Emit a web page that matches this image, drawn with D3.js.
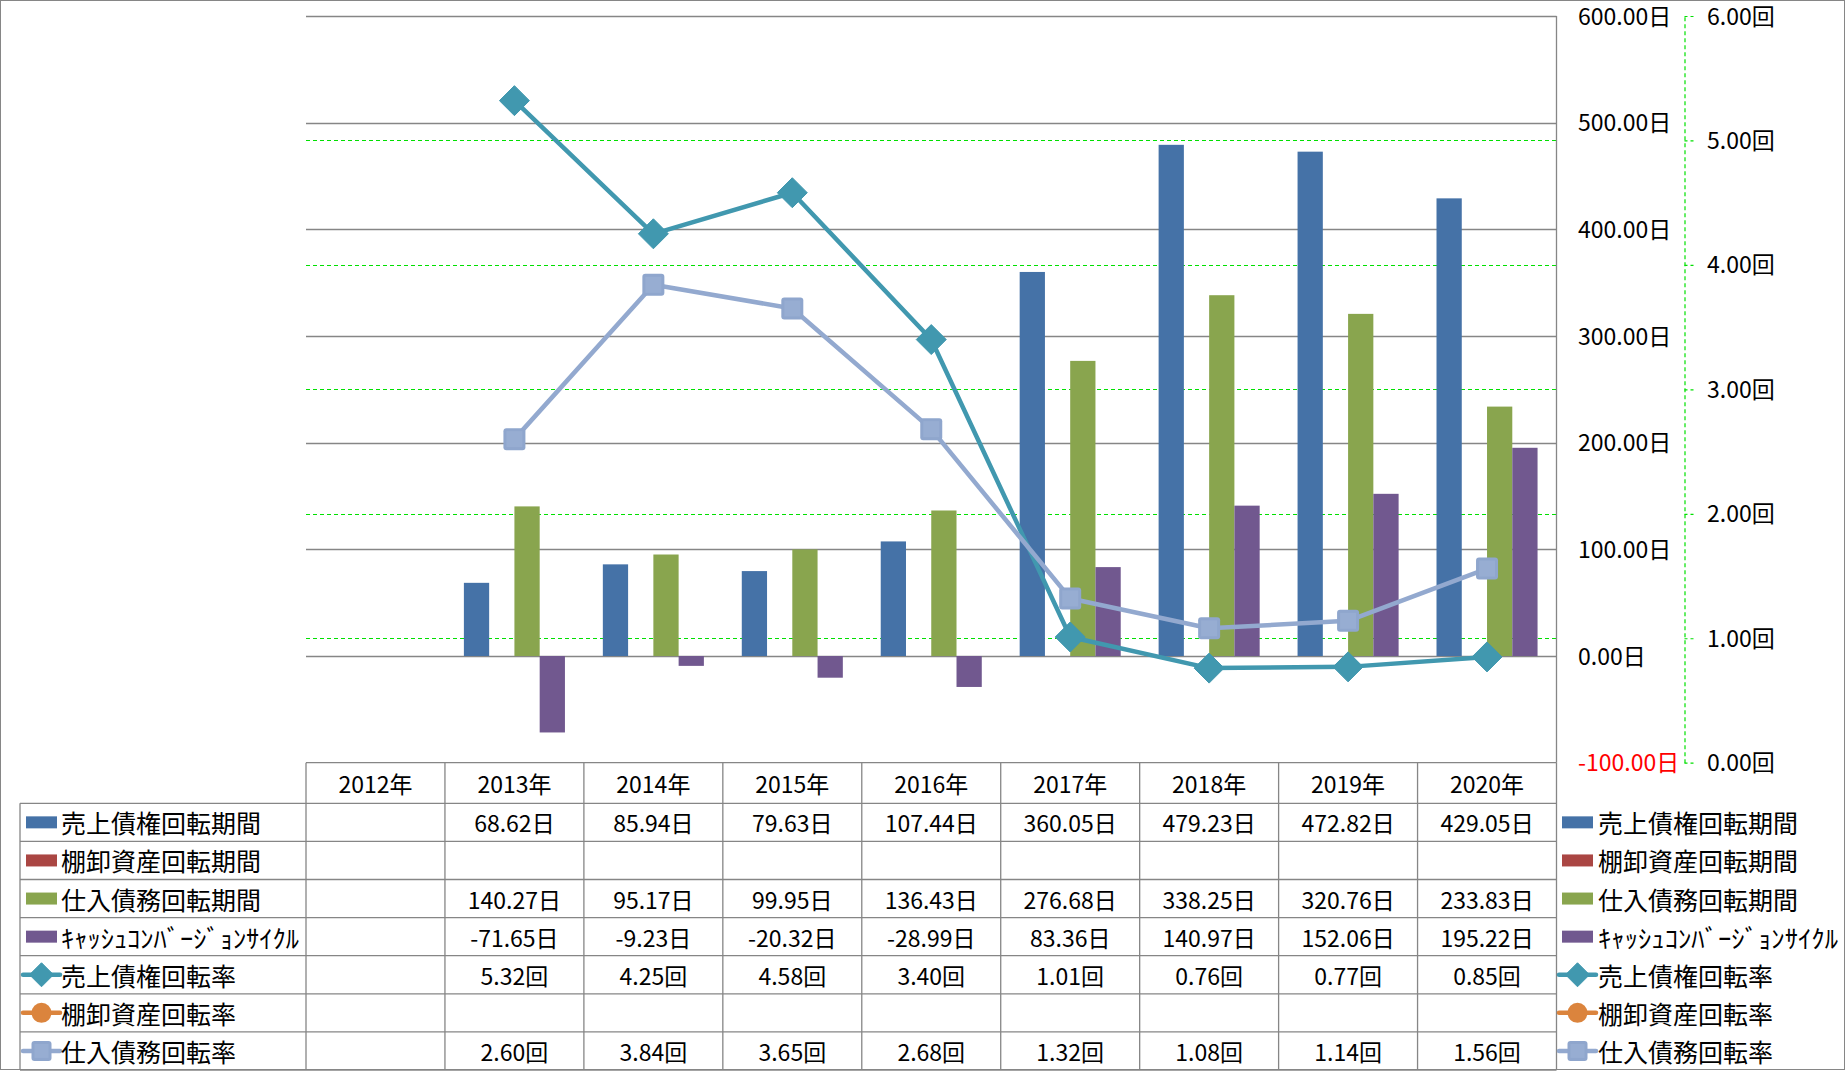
<!DOCTYPE html>
<html><head><meta charset="utf-8">
<script src="https://cdn.jsdelivr.net/npm/d3@7"></script>
<style>
html,body{margin:0;padding:0;background:#fff;}
svg{display:block;font-family:"Noto Sans CJK JP","Noto Sans",sans-serif;}
</style></head>
<body>
<svg id="chart" width="1846" height="1071"></svg>
<script>
// ---- data ----
const categories = ["2012年","2013年","2014年","2015年","2016年","2017年","2018年","2019年","2020年"];
const arDays  = [null, 68.62, 85.94, 79.63, 107.44, 360.05, 479.23, 472.82, 429.05];
const invDays = [null, null, null, null, null, null, null, null, null];
const apDays  = [null, 140.27, 95.17, 99.95, 136.43, 276.68, 338.25, 320.76, 233.83];
const cccDays = [null, -71.65, -9.23, -20.32, -28.99, 83.36, 140.97, 152.06, 195.22];
const arTurn  = [null, 5.32, 4.25, 4.58, 3.40, 1.01, 0.76, 0.77, 0.85];
const invTurn = [null, null, null, null, null, null, null, null, null];
const apTurn  = [null, 2.60, 3.84, 3.65, 2.68, 1.32, 1.08, 1.14, 1.56];
const dayTicks  = [-100, 0, 100, 200, 300, 400, 500, 600];
const turnTicks = [0, 1, 2, 3, 4, 5, 6];
const seriesNames = ["売上債権回転期間","棚卸資産回転期間","仕入債務回転期間","ｷｬｯｼｭｺﾝﾊﾞｰｼﾞｮﾝｻｲｸﾙ","売上債権回転率","棚卸資産回転率","仕入債務回転率"];

// ---- series definitions ----
const barSeries = [
  {name: seriesNames[0], values: arDays,  color: "#4572A7"},
  {name: seriesNames[1], values: invDays, color: "#AA4643"},
  {name: seriesNames[2], values: apDays,  color: "#89A54E"},
  {name: seriesNames[3], values: cccDays, color: "#71588F"}
];
const lineSeries = [
  {name: seriesNames[4], values: arTurn,  color: "#4198AF", marker: "diamond"},
  {name: seriesNames[5], values: invTurn, color: "#DB843D", marker: "circle"},
  {name: seriesNames[6], values: apTurn,  color: "#93A9CF", marker: "square"}
];
const allRows = [
  {s: barSeries[0], unit: "日", kind: "bar"},
  {s: barSeries[1], unit: "日", kind: "bar"},
  {s: barSeries[2], unit: "日", kind: "bar"},
  {s: barSeries[3], unit: "日", kind: "bar", narrow: true},
  {s: lineSeries[0], unit: "回", kind: "line"},
  {s: lineSeries[1], unit: "回", kind: "line"},
  {s: lineSeries[2], unit: "回", kind: "line"}
];

const svg = d3.select("#chart");
const gridGray = "#868686";
const plotL = 306, plotR = 1556.5, plotT = 16, plotB = 762.7;

const x = d3.scaleBand().domain(categories).range([plotL, plotR]).padding(0);
const xs = d3.scaleBand().domain(d3.range(barSeries.length)).range([0, x.bandwidth()]).paddingInner(0).paddingOuter(0.75);
const yL = d3.scaleLinear().domain([-100, 600]).range([plotB, plotT]);
const yR = d3.scaleLinear().domain([0, 6]).range([plotB, plotT]);

// outer border
svg.append("rect").attr("x",0.5).attr("y",0.5).attr("width",1844).attr("height",1069)
  .attr("fill","none").attr("stroke",gridGray).attr("stroke-width",1);

// green dashed gridlines (secondary)
svg.append("g").selectAll("line").data(turnTicks.filter(t => t > 0 && t < 6)).join("line")
  .attr("x1", plotL).attr("x2", plotR)
  .attr("y1", d => Math.round(yR(d)) + 0.5).attr("y2", d => Math.round(yR(d)) + 0.5)
  .attr("stroke", "#00E000").attr("stroke-width", 1.2).attr("stroke-dasharray", "4,3");

// gray gridlines (primary)
svg.append("g").selectAll("line").data(dayTicks.filter(t => t >= 0)).join("line")
  .attr("x1", plotL).attr("x2", plotR)
  .attr("y1", d => Math.round(yL(d)) + 0.5).attr("y2", d => Math.round(yL(d)) + 0.5)
  .attr("stroke", gridGray).attr("stroke-width", 1.3);

// plot right border
svg.append("line").attr("x1", plotR).attr("x2", plotR).attr("y1", yL(600)).attr("y2", plotB)
  .attr("stroke", gridGray).attr("stroke-width", 1.3);

// bars
const barG = svg.append("g");
barSeries.forEach((s, si) => {
  barG.append("g").selectAll("rect")
    .data(s.values.map((v, i) => ({v, c: categories[i]})).filter(d => d.v !== null))
    .join("rect")
    .attr("x", d => x(d.c) + xs(si))
    .attr("width", xs.bandwidth())
    .attr("y", d => yL(Math.max(0, d.v)))
    .attr("height", d => Math.abs(yL(d.v) - yL(0)))
    .attr("fill", s.color);
});

// marker drawing helper
function drawMarker(g, type, cx, cy, size, color) {
  if (type === "diamond") {
    const h = size / 2;
    g.append("path").attr("d", `M${cx},${cy - h}L${cx + h},${cy}L${cx},${cy + h}L${cx - h},${cy}Z`)
      .attr("fill", color).attr("stroke", color).attr("stroke-width", 1).attr("stroke-linejoin","round");
  } else if (type === "square") {
    const h = size / 2;
    g.append("rect").attr("x", cx - h).attr("y", cy - h).attr("width", size).attr("height", size)
      .attr("rx", 3).attr("fill", "#8FA6CD");
    g.append("rect").attr("x", cx - h + 3).attr("y", cy - h + 3).attr("width", size - 6).attr("height", size - 6)
      .attr("fill", "#97ADD2");
  } else {
    g.append("circle").attr("cx", cx).attr("cy", cy).attr("r", size / 2).attr("fill", color);
  }
}

// lines
const lineG = svg.append("g");
lineSeries.forEach(s => {
  const pts = s.values.map((v, i) => ({v, c: categories[i]})).filter(d => d.v !== null);
  if (!pts.length) return;
  const line = d3.line().x(d => x(d.c) + x.bandwidth() / 2).y(d => yR(d.v));
  lineG.append("path").datum(pts).attr("d", line).attr("fill", "none")
    .attr("stroke", s.color).attr("stroke-width", 4.5).attr("stroke-linejoin", "round");
  const mg = lineG.append("g");
  pts.forEach(d => drawMarker(mg, s.marker, x(d.c) + x.bandwidth() / 2, yR(d.v), s.marker === "diamond" ? 30 : 22, s.color));
});

// primary axis (right side, labels only)
const axL = svg.append("g").attr("transform", `translate(${plotR},0)`)
  .call(d3.axisRight(yL).tickValues(dayTicks).tickFormat(d => d.toFixed(2) + "日").tickSize(0).tickPadding(21.5));
axL.select(".domain").remove();
axL.attr("font-family", null).attr("font-size", null);
axL.selectAll("text").attr("font-size", 23).attr("dy", "0.35em")
  .attr("fill", d => d < 0 ? "#FF0000" : "#000");

// secondary axis
const axR = svg.append("g").attr("transform", `translate(1684.5,0)`)
  .call(d3.axisRight(yR).tickValues(turnTicks).tickFormat(d => d.toFixed(2) + "回").tickSize(9).tickSizeOuter(0).tickPadding(13.5));
axR.attr("font-family", null).attr("font-size", null);
axR.select(".domain").attr("stroke", "#00E000").attr("stroke-dasharray", "4,3").attr("stroke-width", 1.2);
axR.selectAll(".tick line").attr("stroke", "#00E000").attr("stroke-dasharray", "3,3").attr("stroke-width", 1.2);
axR.selectAll("text").attr("font-size", 23).attr("dy", "0.35em").attr("fill", "#000");

// ---- data table ----
const tableTop = plotB, headerB = 803.3, tableB = 1070, legL = 20;
const rowY = d3.scaleBand().domain(d3.range(allRows.length)).range([headerB, tableB]);
const tg = svg.append("g");
function hline(x1, x2, y) { tg.append("line").attr("x1", x1).attr("x2", x2).attr("y1", y).attr("y2", y).attr("stroke", gridGray).attr("stroke-width", 1.3); }
function vline(xx, y1, y2) { tg.append("line").attr("x1", xx).attr("x2", xx).attr("y1", y1).attr("y2", y2).attr("stroke", gridGray).attr("stroke-width", 1.3); }
hline(plotL, plotR, tableTop);
hline(legL, plotR, headerB);
allRows.forEach((r, i) => hline(legL, plotR, rowY(i) + rowY.bandwidth()));
categories.forEach(c => vline(x(c), tableTop, tableB));
vline(plotR, tableTop, tableB);
vline(legL, headerB, tableB);

// header labels
tg.selectAll("text.hdr").data(categories).join("text").attr("class", "hdr")
  .attr("x", d => x(d) + x.bandwidth() / 2).attr("y", (tableTop + headerB) / 2)
  .attr("text-anchor", "middle").attr("dominant-baseline", "central")
  .attr("font-size", 23).attr("fill", "#000").text(d => d);

// cell values
allRows.forEach((r, i) => {
  const cy = rowY(i) + rowY.bandwidth() / 2;
  r.s.values.forEach((v, j) => {
    if (v === null) return;
    tg.append("text").attr("x", x(categories[j]) + x.bandwidth() / 2).attr("y", cy)
      .attr("text-anchor", "middle").attr("dominant-baseline", "central")
      .attr("font-size", 23).attr("fill", "#000").text(v.toFixed(2) + r.unit);
  });
});

// legend keys (left in table, and right)
function legendKey(g, r, x0, cy) {
  if (r.kind === "bar") {
    g.append("rect").attr("x", x0 + 3).attr("y", cy - 6).attr("width", 31).attr("height", 12).attr("fill", r.s.color);
  } else {
    g.append("line").attr("x1", x0).attr("x2", x0 + 37).attr("y1", cy).attr("y2", cy)
      .attr("stroke", r.s.color).attr("stroke-width", 4.5).attr("stroke-linecap", "round");
    const cx = x0 + 18.5;
    if (r.s.marker === "diamond") drawMarker(g, "diamond", cx, cy, 24, r.s.color);
    else if (r.s.marker === "square") drawMarker(g, "square", cx, cy, 20, r.s.color);
    else drawMarker(g, "circle", cx, cy, 20, r.s.color);
  }
}
const lg = svg.append("g");
allRows.forEach((r, i) => {
  const cy = rowY(i) + rowY.bandwidth() / 2;
  legendKey(lg, r, 23, cy);
  const t1 = lg.append("text").attr("x", 61).attr("y", cy).attr("dominant-baseline", "central")
    .attr("font-size", 25).attr("fill", "#000").text(r.s.name);
  legendKey(lg, r, 1559, cy);
  const t2 = lg.append("text").attr("x", 1598).attr("y", cy).attr("dominant-baseline", "central")
    .attr("font-size", 25).attr("fill", "#000").text(r.s.name);
  if (r.narrow) {
    t1.attr("textLength", 238).attr("lengthAdjust", "spacingAndGlyphs");
    t2.attr("textLength", 240).attr("lengthAdjust", "spacingAndGlyphs");
  }
});
</script>
</body></html>
